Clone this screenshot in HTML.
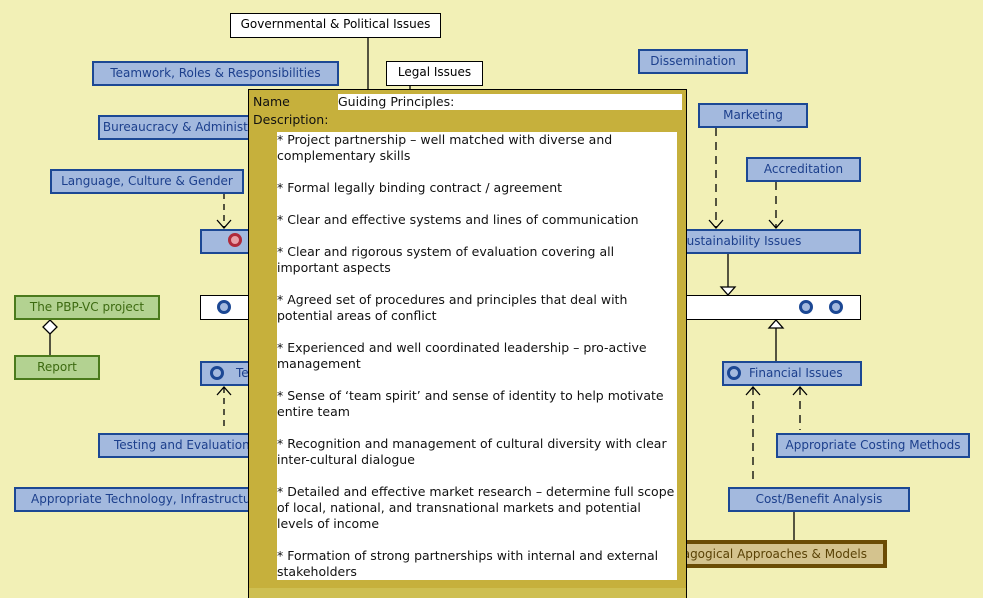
<!DOCTYPE html>
<html><head><meta charset="utf-8"><style>
body{margin:0;width:983px;height:598px;overflow:hidden;background:#f2f0b6;position:relative;font-family:"DejaVu Sans","Liberation Sans",sans-serif;}
.b{position:absolute;box-sizing:border-box;font-size:12px;text-align:center;line-height:20px;white-space:nowrap;overflow:hidden}
.w{background:#fff;border:1.5px solid #000;color:#000}
.bl{background:#a3b9de;border:2.5px solid #1c4894;color:#1c3f8c}
.g{background:#b3d291;border:2.5px solid #4b7a1c;color:#3c6a10}
.c{position:absolute;width:8px;height:8px;border:3px solid #1c4894;border-radius:50%;background:#a3b9de}
svg{position:absolute;left:0;top:0}
#p{position:absolute;left:248px;top:89px;width:439px;height:509px;background:#c6b03c;border-left:1.5px solid #000;border-right:1.5px solid #000;border-top:1.5px solid #000;box-sizing:border-box;z-index:5}
#t{position:absolute;left:277px;top:132px;width:400px;height:448px;background:#fff;font-size:12.5px;line-height:16px;color:#111;z-index:6}
</style></head><body>
<svg width="983" height="598">
<g stroke="#000" stroke-width="1.3" fill="none">
<line x1="368" y1="37" x2="368" y2="92"/>
<line x1="410" y1="85" x2="410" y2="92"/>
<line x1="224" y1="193" x2="224" y2="228" stroke-dasharray="6,5"/>
<polyline points="217,220 224,228 231,220"/>
<line x1="716" y1="128" x2="716" y2="228" stroke-dasharray="8,6"/>
<polyline points="709,220 716,228 723,220"/>
<line x1="776" y1="182" x2="776" y2="228" stroke-dasharray="8,6"/>
<polyline points="769,220 776,228 783,220"/>
<line x1="728" y1="253" x2="728" y2="287"/>
<polygon points="721,287 735,287 728,295" fill="#fff"/>
<polygon points="769,328 783,328 776,320" fill="#fff"/>
<line x1="776" y1="328" x2="776" y2="361"/>
<line x1="753" y1="387" x2="753" y2="481" stroke-dasharray="8,6"/>
<polyline points="746,395 753,387 760,395"/>
<line x1="800" y1="387" x2="800" y2="430" stroke-dasharray="8,6"/>
<polyline points="793,395 800,387 807,395"/>
<line x1="794" y1="511" x2="794" y2="541"/>
<line x1="224" y1="387" x2="224" y2="430" stroke-dasharray="6,5"/>
<polyline points="217,395 224,387 231,395"/>
<line x1="50" y1="334" x2="50" y2="355"/>
<polygon points="50,320 57,327 50,334 43,327" fill="#fff"/>
</g></svg>
<div class="b w" style="left:230px;top:13px;width:211px;height:25px">Governmental &amp; Political Issues</div>
<div class="b w" style="left:386px;top:61px;width:97px;height:25px">Legal Issues</div>
<div class="b bl" style="left:92px;top:61px;width:247px;height:25px">Teamwork, Roles &amp; Responsibilities</div>
<div class="b bl" style="left:98px;top:115px;width:190px;height:25px">Bureaucracy &amp; Administration</div>
<div class="b bl" style="left:50px;top:169px;width:194px;height:25px">Language, Culture &amp; Gender</div>
<div class="b bl" style="left:200px;top:229px;width:100px;height:25px"></div>
<div style="position:absolute;left:228px;top:233px;width:8px;height:8px;border:3px solid #b02a3a;border-radius:50%;background:#e8a0a8"></div>
<div class="b w" style="left:200px;top:295px;width:661px;height:25px"></div>
<div class="c" style="left:217px;top:300px"></div>
<div class="c" style="left:799px;top:300px"></div>
<div class="c" style="left:829px;top:300px"></div>
<div class="b g" style="left:14px;top:295px;width:146px;height:25px">The PBP-VC project</div>
<div class="b g" style="left:14px;top:355px;width:86px;height:25px">Report</div>
<div class="b bl" style="left:200px;top:361px;width:100px;height:25px;text-align:left;padding-left:34px">Technology</div>
<div class="c" style="left:210px;top:366px"></div>
<div class="b bl" style="left:98px;top:433px;width:163px;height:25px;text-align:left;padding-left:14px">Testing and Evaluation</div>
<div class="b bl" style="left:14px;top:487px;width:270px;height:25px;text-align:left;padding-left:15px">Appropriate Technology, Infrastructure &amp; Support</div>
<div class="b bl" style="left:638px;top:49px;width:110px;height:25px">Dissemination</div>
<div class="b bl" style="left:698px;top:103px;width:110px;height:25px">Marketing</div>
<div class="b bl" style="left:746px;top:157px;width:115px;height:25px">Accreditation</div>
<div class="b bl" style="left:600px;top:229px;width:261px;height:25px;text-align:left;padding-left:77px">Sustainability Issues</div>
<div class="b bl" style="left:722px;top:361px;width:140px;height:25px;text-align:left;padding-left:25px">Financial Issues</div>
<div class="c" style="left:727px;top:366px"></div>
<div class="b bl" style="left:776px;top:433px;width:194px;height:25px">Appropriate Costing Methods</div>
<div class="b bl" style="left:728px;top:487px;width:182px;height:25px">Cost/Benefit Analysis</div>
<div class="b" style="left:560px;top:540px;width:327px;height:28px;background:#d4c38e;border:4px solid #6b4c05;color:#5a4205;text-align:right;padding-right:16px;line-height:20px">Pedagogical Approaches &amp; Models</div>
<div id="p">
<div style="position:absolute;left:0;right:0;top:498px;bottom:0;background:#cebf52"></div>
<div style="position:absolute;left:4px;top:4px;font-size:12.5px;color:#111">Name</div>
<div style="position:absolute;left:4px;top:22px;font-size:12.5px;color:#111">Description:</div>
<div style="position:absolute;left:89px;top:4px;width:344px;height:16px;background:#fff;font-size:12.5px;line-height:16px;color:#111">Guiding Principles:</div>
</div>
<div id="t">* Project partnership – well matched with diverse and<br>complementary skills<br><br>* Formal legally binding contract / agreement<br><br>* Clear and effective systems and lines of communication<br><br>* Clear and rigorous system of evaluation covering all<br>important aspects<br><br>* Agreed set of procedures and principles that deal with<br>potential areas of conflict<br><br>* Experienced and well coordinated leadership – pro-active<br>management<br><br>* Sense of ‘team spirit’ and sense of identity to help motivate<br>entire team<br><br>* Recognition and management of cultural diversity with clear<br>inter-cultural dialogue<br><br>* Detailed and effective market research – determine full scope<br>of local, national, and transnational markets and potential<br>levels of income<br><br>* Formation of strong partnerships with internal and external<br>stakeholders</div>
</body></html>
